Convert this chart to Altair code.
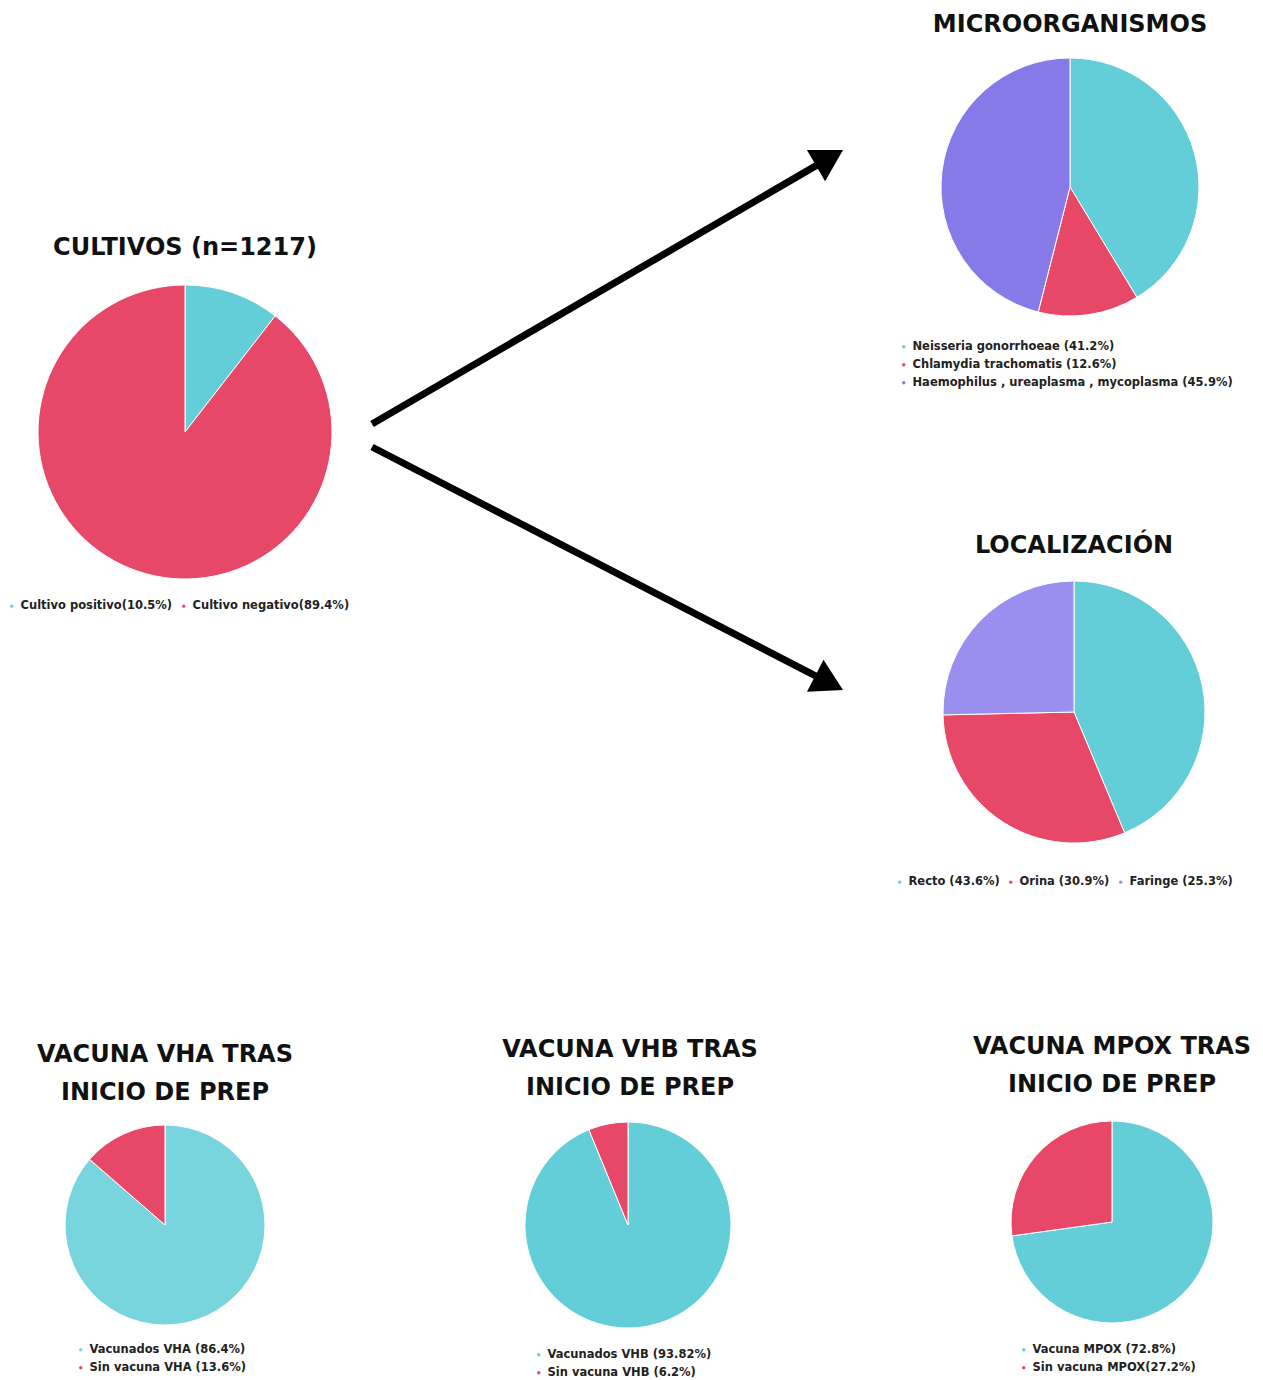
import math
import altair as alt
import pandas as pd

# ---------------- data ----------------
cult_labels = ["Cultivo positivo(10.5%)", "Cultivo negativo(89.4%)"]
cult_values = [10.5, 89.4]

micro_labels = ["Neisseria gonorrhoeae (41.2%)", "Chlamydia trachomatis (12.6%)",
                "Haemophilus , ureaplasma , mycoplasma (45.9%)"]
micro_values = [41.2, 12.6, 45.9]

loc_labels = ["Recto (43.6%)", "Orina (30.9%)", "Faringe (25.3%)"]
loc_values = [43.6, 30.9, 25.3]

vha_labels = ["Vacunados VHA (86.4%)", "Sin vacuna VHA (13.6%)"]
vha_values = [86.4, 13.6]

vhb_labels = ["Vacunados VHB (93.82%)", "Sin vacuna VHB (6.2%)"]
vhb_values = [93.82, 6.2]

mpox_labels = ["Vacuna MPOX (72.8%)", "Sin vacuna MPOX(27.2%)"]
mpox_values = [72.8, 27.2]

titles = {
    "cult": ["CULTIVOS (n=1217)"],
    "micro": ["MICROORGANISMOS"],
    "loc": ["LOCALIZACIÓN"],
    "vha": ["VACUNA VHA TRAS", "INICIO DE PREP"],
    "vhb": ["VACUNA VHB TRAS", "INICIO DE PREP"],
    "mpox": ["VACUNA MPOX TRAS", "INICIO DE PREP"],
}

TEAL = "#63CED8"
TEAL_L = "#78D5DD"
RED = "#E84867"
PURPLE = "#867AE8"
PURPLE_L = "#9A8FEE"

FONT = "DejaVu Sans"
one = pd.DataFrame({"k": [0]})


def pie(labels, values, colors, cx, cy, r, lx, ly, direction):
    df = pd.DataFrame({"label": labels, "value": values, "idx": list(range(len(labels)))})
    return alt.Chart(df).mark_arc(radius=r, stroke="white", strokeWidth=1).encode(
        x=alt.value(cx),
        y=alt.value(cy),
        theta=alt.Theta("value:Q", stack=True),
        order=alt.Order("idx:Q"),
        color=alt.Color(
            "label:N",
            scale=alt.Scale(domain=labels, range=colors),
            legend=alt.Legend(orient="none", legendX=lx, legendY=ly,
                              direction=direction, title=None),
        ),
    )


def title(lines, cx, cy, lh=38):
    out = []
    n = len(lines)
    for i, ln in enumerate(lines):
        y = cy + (i - (n - 1) / 2) * lh
        out.append(
            alt.Chart(one).mark_text(font=FONT, fontWeight="bold", fontSize=24,
                                     color="#111111", align="center", baseline="middle")
            .encode(x=alt.value(cx), y=alt.value(y), text=alt.value(ln))
        )
    return out


def arrow(x0, y0, x1, y1, size=1300, width=7):
    dx, dy = x1 - x0, y1 - y0
    L = math.hypot(dx, dy)
    ux, uy = dx / L, dy / L
    r = math.sqrt(size) / 2
    h = math.sqrt(3) / 2 * r
    cx, cy = x1 - ux * h, y1 - uy * h
    ang = math.degrees(math.atan2(dx, -dy)) % 360
    line = alt.Chart(one).mark_rule(color="black", strokeWidth=width, strokeCap="butt").encode(
        x=alt.value(x0), y=alt.value(y0), x2=alt.value(cx), y2=alt.value(cy))
    head = alt.Chart(one).mark_point(shape="triangle-up", size=size, filled=True,
                                     color="black", opacity=1, angle=ang).encode(
        x=alt.value(cx), y=alt.value(cy))
    return [line, head]


layers = []
layers.append(pie(cult_labels, cult_values, [TEAL, RED], 177, 424, 147, -2, 592, "horizontal"))
layers.append(pie(micro_labels, micro_values, [TEAL, RED, PURPLE], 1062, 179, 129, 890, 333, "vertical"))
layers.append(pie(loc_labels, loc_values, [TEAL, RED, PURPLE_L], 1066, 704, 131, 886, 868, "horizontal"))
layers.append(pie(vha_labels, vha_values, [TEAL_L, RED], 157, 1217, 100, 67, 1336, "vertical"))
layers.append(pie(vhb_labels, vhb_values, [TEAL, RED], 620, 1217, 103, 525, 1341, "vertical"))
layers.append(pie(mpox_labels, mpox_values, [TEAL, RED], 1104, 1214, 101, 1010, 1336, "vertical"))

layers += title(titles["cult"], 177, 240)
layers += title(titles["micro"], 1062, 17)
layers += title(titles["loc"], 1066, 538)
layers += title(titles["vha"], 157, 1066)
layers += title(titles["vhb"], 622, 1061)
layers += title(titles["mpox"], 1104, 1058)

layers += arrow(364, 416, 835, 142)
layers += arrow(364, 439, 835, 682)

chart = (
    alt.layer(*layers)
    .resolve_scale(theta="independent", color="independent")
    .properties(width=1247, height=1372, padding=0,
                autosize=alt.AutoSizeParams(type="none"), background="white")
    .configure_view(stroke=None)
    .configure_legend(labelFont=FONT, labelFontWeight="bold", labelFontSize=11.5,
                      labelColor="#222222", symbolType="circle", symbolSize=12,
                      symbolStrokeWidth=0, labelLimit=600, rowPadding=5,
                      columnPadding=5, padding=0, labelOffset=3)
)

chart.save("out.html", embed_options={"renderer": "svg", "actions": False})
